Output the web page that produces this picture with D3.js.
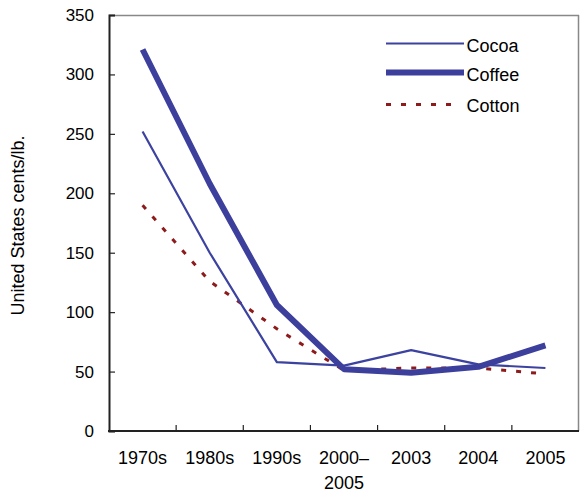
<!DOCTYPE html>
<html>
<head>
<meta charset="utf-8">
<script src="https://cdn.jsdelivr.net/npm/d3@7"></script>
<style>
  html, body { margin: 0; padding: 0; background: #fff; }
  svg { display: block; font-family: "Liberation Sans", Arial, sans-serif; }
</style>
</head>
<body>
<div id="chart"></div>
<script>
const categories = ["1970s", "1980s", "1990s", "2000–\n2005", "2003", "2004", "2005"];
const cocoa  = [252, 150, 58, 55, 68, 56, 53];
const coffee = [321, 208, 106, 52, 49, 54, 72];
const cotton = [190, 126, 86, 51, 53, 53, 48];
const yTicks = [0, 50, 100, 150, 200, 250, 300, 350];
const seriesNames = ["Cocoa", "Coffee", "Cotton"];

const W = 580, H = 493;
const pL = 109, pR = 579, pT = 15, pB = 431;

const svg = d3.select("#chart").append("svg").attr("width", W).attr("height", H);

const x = d3.scaleBand().domain(categories).range([pL, pR]);
const y = d3.scaleLinear().domain([0, 350]).range([pB, pT]);

// frame (top/right grey)
svg.append("line").attr("x1", pL).attr("x2", pR).attr("y1", pT + 0.5).attr("y2", pT + 0.5)
  .attr("stroke", "#888").attr("stroke-width", 1.5);
svg.append("line").attr("x1", pR - 0.5).attr("x2", pR - 0.5).attr("y1", pT).attr("y2", pB)
  .attr("stroke", "#888").attr("stroke-width", 1.5);

// y axis
const yAxis = d3.axisLeft(y).tickValues(yTicks).tickSize(-6).tickPadding(15);
const gy = svg.append("g").attr("transform", `translate(${pL},0)`).call(yAxis);
gy.select(".domain").attr("stroke", "#222").attr("stroke-width", 2);
gy.selectAll(".tick line").attr("stroke", "#222").attr("stroke-width", 1.2);
gy.selectAll(".tick text").attr("font-size", 17).attr("fill", "#000")
  .attr("font-family", "Liberation Sans, Arial, sans-serif");

// x axis: ticks at band boundaries
const gx = svg.append("g").attr("transform", `translate(0,${pB})`);
gx.append("line").attr("x1", pL - 1).attr("x2", pR).attr("y1", 0).attr("y2", 0)
  .attr("stroke", "#222").attr("stroke-width", 2);
categories.slice(1).forEach(c => {
  gx.append("line").attr("x1", x(c)).attr("x2", x(c)).attr("y1", 0).attr("y2", -6)
    .attr("stroke", "#222").attr("stroke-width", 1.2);
});
categories.forEach(c => {
  const cx = x(c) + x.bandwidth() / 2;
  const t = gx.append("text").attr("x", cx).attr("y", 33)
    .attr("text-anchor", "middle").attr("font-size", 18).attr("fill", "#000");
  c.split("\n").forEach((s, i) => {
    t.append("tspan").attr("x", cx).attr("dy", i === 0 ? 0 : 25).text(s);
  });
});

// y axis title
svg.append("text").attr("transform", `translate(24,225.5) rotate(-90)`)
  .attr("text-anchor", "middle").attr("font-size", 18).attr("fill", "#000")
  .text("United States cents/lb.");

const line = d3.line().x((d, i) => x(categories[i]) + x.bandwidth() / 2).y(d => y(d));

const styles = {
  Cocoa:  { data: cocoa,  color: "#3c42a0", width: 2.2, dash: null },
  Coffee: { data: coffee, color: "#3c3f9c", width: 6, dash: null },
  Cotton: { data: cotton, color: "#8e1b1b", width: 3, dash: "5,10" }
};

["Cotton", "Cocoa", "Coffee"].forEach(name => {
  const s = styles[name];
  svg.append("path").datum(s.data).attr("d", line)
    .attr("fill", "none").attr("stroke", s.color).attr("stroke-width", s.width)
    .attr("stroke-dasharray", s.dash).attr("stroke-linejoin", "round");
});

// legend
const legY = [43.5, 72.5, 104.5];
const legBase = [51.5, 81, 112];
seriesNames.forEach((name, i) => {
  const s = styles[name];
  svg.append("line").attr("x1", 386).attr("x2", name === "Cotton" ? 456 : 464)
    .attr("y1", legY[i]).attr("y2", legY[i])
    .attr("stroke", s.color).attr("stroke-width", s.width).attr("stroke-dasharray", s.dash);
  svg.append("text").attr("x", 466.5).attr("y", legBase[i]).attr("font-size", 18).attr("fill", "#000")
    .text(name);
});
</script>
</body>
</html>
